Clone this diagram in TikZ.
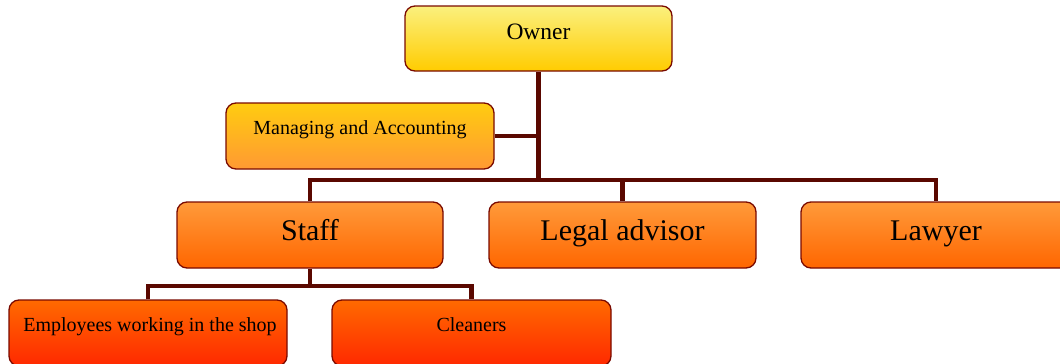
\documentclass[tikz,border=0pt]{standalone}
\usepackage{fontspec}
\setmainfont{Liberation Serif}
\definecolor{edge}{HTML}{7A0A00}
\definecolor{conn}{HTML}{5A0800}
\definecolor{aTop}{HTML}{FBF07E}
\definecolor{aBot}{HTML}{FFCC00}
\definecolor{bTop}{HTML}{FFCC10}
\definecolor{bBot}{HTML}{FF9933}
\definecolor{cTop}{HTML}{FF9A3A}
\definecolor{cBot}{HTML}{FF6600}
\definecolor{dTop}{HTML}{FF6A00}
\definecolor{dBot}{HTML}{FF2800}
\tikzset{
  box/.style={draw=edge, line width=1.3pt, rounded corners=10pt, inner sep=0pt, align=center},
  lvlA/.style={box, top color=aTop, bottom color=aBot},
  lvlB/.style={box, top color=bTop, bottom color=bBot},
  lvlC/.style={box, top color=cTop, bottom color=cBot},
  lvlD/.style={box, top color=dTop, bottom color=dBot},
  conline/.style={draw=conn, line width=4.8pt, line join=miter},
}
\begin{document}
\begin{tikzpicture}[x=1pt,y=-1pt]
\useasboundingbox (0,0) rectangle (1060,364);
\clip (0,0) rectangle (1060,364);
\coordinate (bus) at (538.5,180);
\coordinate (bus2) at (310,286);
% nodes
\node[lvlA, minimum width=267pt, text height=33pt, text depth=32pt, font=\fontsize{23.5}{26}\selectfont] (owner) at (538.5,38.5) {Owner};
\node[lvlB, minimum width=268pt, text height=31pt, text depth=35pt, font=\fontsize{20}{24}\selectfont] (mgr) at (360,136) {Managing and Accounting};
\node[lvlC, minimum width=266pt, text height=38pt, text depth=28pt, font=\fontsize{30}{34}\selectfont] (staff) at (310,235) {Staff};
\node[lvlC, minimum width=267pt, text height=38pt, text depth=28pt, font=\fontsize{30}{34}\selectfont] (legal) at (622.5,235) {Legal advisor};
\node[lvlC, minimum width=270pt, text height=38pt, text depth=28pt, font=\fontsize{30}{34}\selectfont] (lawyer) at (936,235) {Lawyer};
\node[lvlD, minimum width=278pt, text height=31pt, text depth=35pt, font=\fontsize{20}{24}\selectfont] (emp) at (148,333) {\hspace*{4pt}Employees working in the shop};
\node[lvlD, minimum width=279pt, text height=31pt, text depth=35pt, font=\fontsize{20}{24}\selectfont] (clean) at (471.5,333) {Cleaners};
% connectors
\draw[conline] (owner.south) -- (bus);
\draw[conline] (mgr.east) -- (mgr.east -| bus);
\draw[conline] (staff.north) |- (bus) -| (lawyer.north);
\draw[conline] (legal.north) -- (legal.north |- bus);
\draw[conline] (staff.south) -- (bus2);
\draw[conline] (emp.north) |- (bus2) -| (clean.north);
\end{tikzpicture}
\end{document}
